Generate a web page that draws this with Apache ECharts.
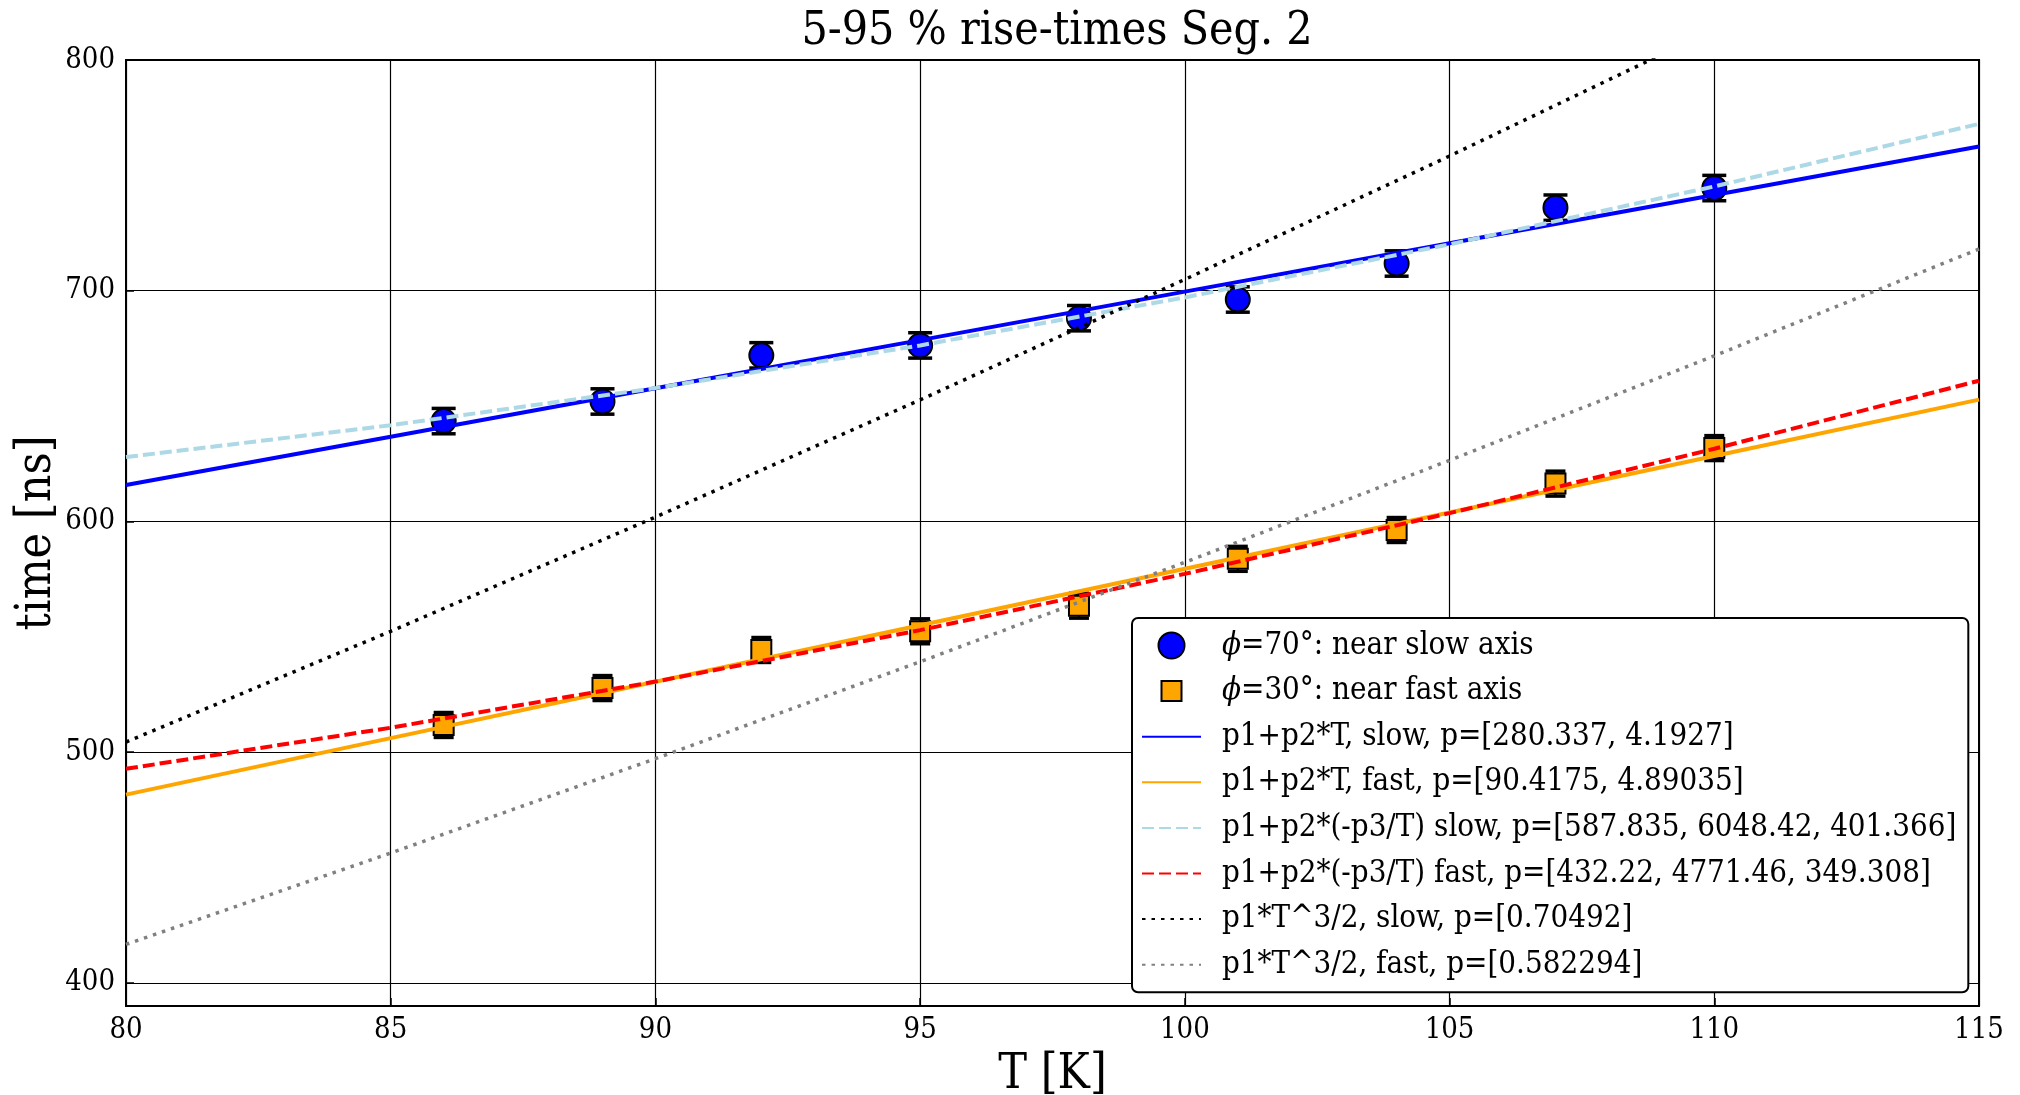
<!DOCTYPE html>
<html>
<head>
<meta charset="utf-8">
<script src="https://cdn.jsdelivr.net/npm/echarts@6/dist/echarts.min.js"></script>
<style>
html,body{margin:0;padding:0;background:#fff;}
#chart{width:2020px;height:1095px;}
</style>
</head>
<body>
<div id="chart"></div>
<script>
// ---- data ----
const titleText = '5-95 % rise-times Seg. 2';
const xName = 'T [K]';
const yName = 'time [ns]';
const yTicks = [400, 500, 600, 700, 800];

const tempPoints = [86, 89, 92, 95, 98, 101, 104, 107, 110];
const slowTimes = [643.5, 652.0, 672.0, 676.3, 688.1, 696.2, 711.8, 736.0, 744.5];
const slowErr   = [5.5, 5.5, 5.5, 5.5, 5.5, 5.5, 5.5, 5.5, 5.5];
const fastTimes = [511.8, 527.8, 544.3, 552.4, 563.5, 583.8, 596.3, 616.4, 631.8];
const fastErr   = [5.4, 5.4, 5.4, 5.4, 5.4, 5.4, 5.4, 5.4, 5.4];

const fitT     = [80, 85, 90, 95, 100, 105, 110, 115];
const linSlow  = [615.8, 636.7, 657.7, 678.6, 699.6, 720.6, 741.5, 762.5];
const linFast  = [481.6, 506.1, 530.5, 555.0, 579.5, 603.9, 628.4, 652.8];
const expSlow  = [627.9, 641.7, 657.8, 676.3, 697.1, 720.1, 745.2, 772.3];
const expFast  = [492.8, 510.6, 530.6, 552.9, 577.3, 603.6, 631.5, 661.0];
const powSlow  = [504.4, 552.4, 601.9, 652.7, 704.9, 758.4, 813.3, 869.3];
const powFast  = [416.7, 456.3, 497.2, 539.2, 582.3, 626.5, 671.8, 718.1];

const names = [
  '\u03D5=70\u00B0: near slow axis',
  '\u03D5=30\u00B0: near fast axis',
  'p1+p2*T, slow, p=[280.337, 4.1927]',
  'p1+p2*T, fast, p=[90.4175, 4.89035]',
  'p1+p2*(-p3/T) slow, p=[587.835, 6048.42, 401.366]',
  'p1+p2*(-p3/T) fast, p=[432.22, 4771.46, 349.308]',
  'p1*T^3/2, slow, p=[0.70492]',
  'p1*T^3/2, fast, p=[0.582294]'
];

// ---- build ----
const FONT = "'DejaVu Serif Condensed', 'DejaVu Serif', serif";
const LFS = 31;
const zip = (xs, ys) => xs.map((x, i) => [x, ys[i]]);
const zip3 = (xs, ys, es) => xs.map((x, i) => [x, ys[i], es[i]]);

function errRender(capHalf) {
  return function (params, api) {
    const x = api.value(0), y = api.value(1), e = api.value(2);
    const top = api.coord([x, y + e]);
    const bot = api.coord([x, y - e]);
    const s = { stroke: '#000', lineWidth: 2.5 };
    const c = { stroke: '#000', lineWidth: 3.5 };
    return {
      type: 'group',
      children: [
        { type: 'line', shape: { x1: top[0], y1: top[1], x2: bot[0], y2: bot[1] }, style: s },
        { type: 'line', shape: { x1: top[0] - capHalf, y1: top[1], x2: top[0] + capHalf, y2: top[1] }, style: c },
        { type: 'line', shape: { x1: bot[0] - capHalf, y1: bot[1], x2: bot[0] + capHalf, y2: bot[1] }, style: c }
      ]
    };
  };
}

function fitLine(name, ys, color, type, width) {
  return {
    name: name, type: 'line', data: zip(fitT, ys), symbol: 'none', z: 4,
    clip: true, silent: true, animation: false,
    lineStyle: { color: color, width: width, type: type, cap: 'butt' },
    itemStyle: { color: color }
  };
}

const legendData = names.map((n, i) => {
  if (i === 0) return { name: n, icon: 'circle' };
  if (i === 1) return { name: n, icon: 'path://M0,0L0,0M26,26L26,26M3,3L23,3L23,23L3,23Z' };
  return { name: n, itemStyle: { opacity: 0, borderWidth: 0 } };
});

function legendFormatter(n) {
  if (n.charAt(0) === '\u03D5') return '{i|\u03D5}{a|' + n.slice(1) + '}';
  return '{b|' + n + '}';
}

const chart = echarts.init(document.getElementById('chart'), null, { renderer: 'canvas' });
const option = {
  animation: false,
  backgroundColor: '#fff',
  textStyle: { fontFamily: FONT, color: '#000' },
  title: {
    text: titleText, left: 1052, top: 4, textAlign: 'center',
    textStyle: { fontFamily: FONT, fontSize: 46, fontWeight: 'normal', color: '#000' }
  },
  grid: {
    left: 126, top: 60, right: 41, bottom: 89,
    outerBoundsMode: 'none', containLabel: false,
    show: true, borderColor: '#000', borderWidth: 2, backgroundColor: 'transparent'
  },
  xAxis: {
    type: 'value', min: 80, max: 115, interval: 5,
    name: xName, nameLocation: 'middle', nameGap: 46,
    nameTextStyle: { fontFamily: FONT, fontSize: 48, color: '#000' },
    axisLine: { show: true, lineStyle: { color: '#000', width: 2 } },
    axisTick: { show: true, inside: true, length: 8, lineStyle: { color: '#000', width: 1.5 } },
    axisLabel: { fontFamily: FONT, fontSize: 29, color: '#000', margin: 10 },
    splitLine: { show: true, lineStyle: { color: '#000', width: 1.2 } }
  },
  yAxis: {
    type: 'value', min: 390, max: 800,
    name: yName, nameLocation: 'middle', nameGap: 64, nameRotate: 90, nameMoveOverlap: false,
    nameTextStyle: { fontFamily: FONT, fontSize: 48, color: '#000' },
    axisLine: { show: true, lineStyle: { color: '#000', width: 2 } },
    axisTick: { show: true, inside: true, length: 8, customValues: yTicks, lineStyle: { color: '#000', width: 1.5 } },
    axisLabel: { fontFamily: FONT, fontSize: 29, color: '#000', margin: 11, customValues: yTicks },
    splitLine: { show: true, lineStyle: { color: '#000', width: 1.2 } }
  },
  legend: {
    data: legendData,
    orient: 'vertical', left: 1132, top: 618,
    padding: [12, 12, 12, 9],
    itemGap: 14.6, itemWidth: 59, itemHeight: 26,
    symbolKeepAspect: true,
    backgroundColor: '#fff', borderColor: '#000', borderWidth: 2, borderRadius: 6,
    formatter: legendFormatter,
    textStyle: {
      fontFamily: FONT, fontSize: LFS, color: '#000', lineHeight: 30,
      rich: {
        a: { fontFamily: FONT, fontSize: LFS, color: '#000', lineHeight: 30 },
        b: { fontFamily: FONT, fontSize: LFS, color: '#000', lineHeight: 30, padding: [0, 0, 0, 16] },
        i: { fontFamily: FONT, fontSize: LFS, color: '#000', lineHeight: 30, fontStyle: 'italic', padding: [0, 0, 0, 16] }
      }
    },
    selectedMode: false
  },
  series: [
    {
      type: 'custom', name: 'errSlow', z: 2, silent: true,
      renderItem: errRender(12), data: zip3(tempPoints, slowTimes, slowErr),
      encode: { x: 0, y: 1 }
    },
    {
      type: 'custom', name: 'errFast', z: 2, silent: true,
      renderItem: errRender(10), data: zip3(tempPoints, fastTimes, fastErr),
      encode: { x: 0, y: 1 }
    },
    {
      name: names[0], type: 'scatter', data: zip(tempPoints, slowTimes), z: 3,
      symbol: 'circle', symbolSize: 24, symbolKeepAspect: true,
      itemStyle: { color: '#0000ff', borderColor: '#000', borderWidth: 2, opacity: 1 }
    },
    {
      name: names[1], type: 'scatter', data: zip(tempPoints, fastTimes), z: 3,
      symbol: 'rect', symbolSize: 20, symbolKeepAspect: true,
      itemStyle: { color: '#ffa500', borderColor: '#000', borderWidth: 2, opacity: 1 }
    },
    fitLine(names[2], linSlow, '#0000ff', 'solid', 4),
    fitLine(names[3], linFast, '#ffa500', 'solid', 4),
    fitLine(names[4], expSlow, '#add8e6', [12, 5], 4),
    fitLine(names[5], expFast, '#ff0000', [12, 5], 4),
    fitLine(names[6], powSlow, '#000000', [3.5, 6], 3.5),
    fitLine(names[7], powFast, '#808080', [3.5, 6], 3.5)
  ]
};
chart.setOption(option);
</script>
</body>
</html>
